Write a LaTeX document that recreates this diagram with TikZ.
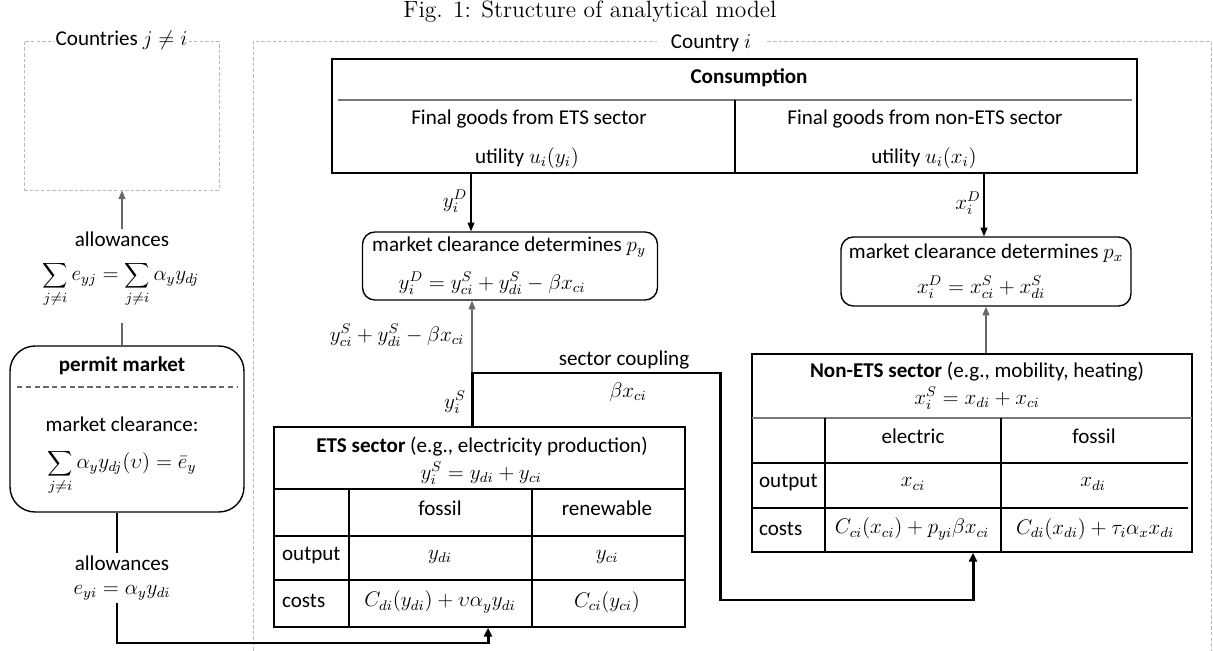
\documentclass[tikz,border=0pt]{standalone}
\usepackage{fontspec}
\usetikzlibrary{arrows.meta}
\newfontfamily\calib{Carlito}
\definecolor{linegray}{RGB}{105,105,105}
\definecolor{zonegray}{RGB}{185,185,185}
\definecolor{rulegray}{RGB}{120,120,120}

\begin{document}
\begin{tikzpicture}[x=0.02cm, y=-0.02cm,
    every node/.style={font=\calib\fontsize{12}{14}\selectfont, inner sep=1pt},
    tbl/.style={draw, line width=0.9pt, inner sep=0pt},
    rbox/.style={draw, line width=0.8pt, inner sep=0pt},
    zone/.style={draw=zonegray, line width=0.5pt, dash pattern=on 2pt off 1.2pt},
    thinline/.style={linegray, line width=0.6pt},
    feed/.style={thinline, -{Triangle[length=5pt,width=4pt]}},
    heavy/.style={black, line width=1.7pt},
    heavyfeed/.style={heavy, -{Triangle[length=5pt,width=4.5pt]}}]
    \useasboundingbox (0,0) rectangle (1213,651);
    % caption
    \node[font=\rmfamily\fontsize{13.4}{16}\selectfont] (caption) at (590,12) {Fig. 1: Structure of analytical model};
    % countries
    \node[zone, minimum width=3.9cm, minimum height=2.98cm] (others) at (121.5,115.5) {};
    \node[fill=white] (otherslbl) at (others.north) {Countries $j\neq i$};
    \draw
        [zone] (253,651) -- (253,41) -- (1211,41) -- (1211,651);
    \node[fill=white, inner xsep=8pt] (home) at (711,43) {Country $i$};
    % consumption
    \node[tbl, minimum width=16.1cm, minimum height=2.28cm] (cons) at (734.5,116) {};
    \draw
        [rulegray, line width=1.5pt] (338,100) -- (1132,100);
    \draw
        [line width=0.9pt] (735,100) -- (735,173);
    \node (consT) at (749,78) {\textbf{Consumption}};
    \node (consYa) at (529,119) {Final goods from ETS sector};
    \node (consYb) at (527,158) {utility $u_i(y_i)$};
    \node (consXa) at (925,119) {Final goods from non-ETS sector};
    \node (consXb) at (924,158) {utility $u_i(x_i)$};
    % market clearance
    \node[rbox, rounded corners=7pt, minimum width=5.9cm, minimum height=1.36cm] (mkty) at (510,266) {};
    \node (mktyT) at (509,247) {market clearance determines $p_y$};
    \node (mktyF) at (492,283) {$y_i^D = y_{ci}^S + y_{di}^S - \beta x_{ci}$};
    \node[rbox, rounded corners=7pt, minimum width=5.8cm, minimum height=1.38cm] (mktx) at (986,271.5) {};
    \node (mktxT) at (986,253) {market clearance determines $p_x$};
    \node (mktxF) at (981,287) {$x_i^D = x_{ci}^S + x_{di}^S$};
    \coordinate (yD) at (471,0);
    \coordinate (xD) at (984,0);
    \draw
        [feed, black] (cons.south -| yD) -- (mkty.north -| yD);
    \draw
        [feed, black] (cons.south -| xD) -- (mktx.north -| xD);
    \node (ydl) at (455,201) {$y_i^D$};
    \node (xdl) at (968,203) {$x_i^D$};
    % permit market
    \node[rbox, rounded corners=0.5cm, minimum width=4.68cm, minimum height=3.32cm] (pmkt) at (127,429) {};
    \draw
        [thinline, densely dashed] (17,387) -- (238,387);
    \node (pmktT) at (122,366) {\textbf{permit market}};
    \node (pmktA) at (122,424) {market clearance:};
    \node (pmktF) at (122,472) {$\displaystyle\sum_{j\neq i}\alpha_y y_{dj}(\upsilon) = \bar e_y$};
    \node (allowA) at (122,239) {allowances};
    \node (sumA) at (121,284) {$\displaystyle\sum_{j\neq i} e_{yj} = \sum_{j\neq i}\alpha_y y_{dj}$};
    \coordinate (sumlink) at (122,323);
    \draw
        [feed] (allowA.north) -- (allowA.north |- others.south);
    \draw
        [thinline] (sumlink) -- (sumlink |- pmkt.north);
    \node (allowB) at (122,563) {allowances};
    \node (eyi) at (122,593) {$e_{yi} = \alpha_y y_{di}$};
    \coordinate (botx) at (117,0);
    \coordinate (etsin) at (488,643);
    \draw
        [heavy] (pmkt.south -| botx) -- (allowB.north -| botx);
    % ETS sector
    \node[tbl, minimum width=8.22cm, minimum height=4cm] (ets) at (479.5,527) {};
    \draw
        [line width=0.9pt] (274,489) -- (685,489) (274,536) -- (685,536) (274,580) -- (685,580)
        (349,489) -- (349,627) (532,489) -- (532,627);
    \node (etsT) at (482,447) {\textbf{ETS sector} (e.g., electricity production)};
    \node (etsF) at (481,473) {$y_i^S = y_{di} + y_{ci}$};
    \node (etsH1) at (440,508) {fossil};
    \node (etsH2) at (607,508) {renewable};
    \node[anchor=west] (etsR1) at (280,556) {output};
    \node (etsO1) at (440,557) {$y_{di}$};
    \node (etsO2) at (607,557) {$y_{ci}$};
    \node[anchor=west] (etsR2) at (280,601) {costs};
    \node (etsC1) at (440,602) {$C_{di}(y_{di}) + \upsilon\alpha_y y_{di}$};
    \node (etsC2) at (607,602) {$C_{ci}(y_{ci})$};
    \draw
        [heavyfeed] (eyi.south -| botx) |- (etsin) -- (ets.south -| etsin);
    % non-ETS sector
    \node[tbl, minimum width=8.8cm, minimum height=3.96cm] (nonets) at (972,453) {};
    \draw
        [rulegray, line width=1.5pt] (752,418) -- (1192,418);
    \draw
        [line width=0.9pt] (752,463) -- (1188,463) (752,508) -- (1188,508)
        (825,418) -- (825,552) (1001,418) -- (1001,552);
    \node (nonT) at (977,372) {\textbf{Non-ETS sector} (e.g., mobility, heating)};
    \node (nonF) at (977,398) {$x_i^S = x_{di} + x_{ci}$};
    \node (nonH1) at (913,436) {electric};
    \node (nonH2) at (1094,436) {fossil};
    \node[anchor=west] (nonR1) at (757,483) {output};
    \node (nonO1) at (913,484) {$x_{ci}$};
    \node (nonO2) at (1093,484) {$x_{di}$};
    \node[anchor=west] (nonR2) at (757,529) {costs};
    \node (nonC1) at (912,529) {$C_{ci}(x_{ci}) + p_{yi}\beta x_{ci}$};
    \node (nonC2) at (1095,529) {$C_{di}(x_{di}) + \tau_i\alpha_x x_{di}$};
    \coordinate (xup) at (986,0);
    \draw
        [feed] (nonets.north -| xup) -- (mktx.south -| xup);
    % sector coupling
    \coordinate (split) at (472,373);
    \coordinate (cpl) at (720,373);
    \coordinate (cpl2) at (973,600);
    \draw
        [feed] (split) -- (mkty.south -| split);
    \draw
        [heavyfeed] (ets.north -| split) -- (split) -- (cpl) |- (cpl2) -- (nonets.south -| cpl2);
    \node (cplT) at (624,360) {sector coupling};
    \node (cplF) at (628,392) {$\beta x_{ci}$};
    \node (ysl) at (455,402) {$y_i^S$};
    \node (sumS) at (397,335) {$y_{ci}^S + y_{di}^S - \beta x_{ci}$};
\end{tikzpicture}
\end{document}
